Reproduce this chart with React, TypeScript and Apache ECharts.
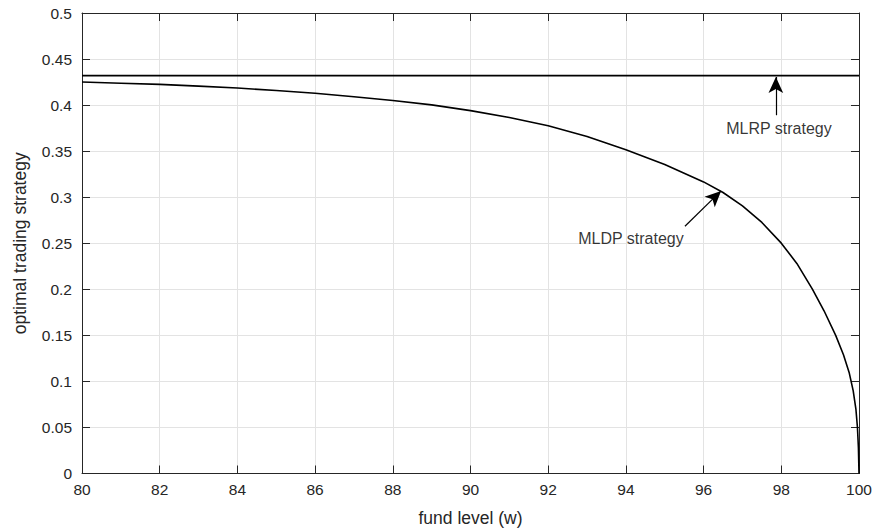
import React, { useEffect, useRef } from "react";
import * as echarts from "echarts";

const fundLevel = [80, 81, 82, 83, 84, 85, 86, 87, 88, 89, 90, 91, 92, 93, 94, 95, 96, 96.5, 97, 97.5, 98, 98.4, 98.8, 99.1, 99.4, 99.6, 99.75, 99.85, 99.92, 99.96, 99.985, 100];
const mldpStrategy = [0.425, 0.4238, 0.4225, 0.4206, 0.4185, 0.4158, 0.4128, 0.4091, 0.405, 0.4002, 0.394, 0.3866, 0.3775, 0.366, 0.3515, 0.3355, 0.3166, 0.3051, 0.2906, 0.2726, 0.2501, 0.2281, 0.2001, 0.1767, 0.15, 0.129, 0.109, 0.09, 0.07, 0.05, 0.028, 0];
const mlrpX = [80, 100];
const mlrpValue = 0.432;

const mldpArrow = { from: [95.52, 0.2685], to: [96.45, 0.3068] };
const mlrpArrow = { from: [97.86, 0.389], to: [97.86, 0.4305] };
const annotations: [number, number, string][] = [
  [94.13, 0.2553, "MLDP strategy"],
  [97.94, 0.3745, "MLRP strategy"],
];

const FONT = "Liberation Sans, Arial, Helvetica, sans-serif";
const AXIS_COLOR = "#262626";
const GRID_COLOR = "#e3e3e3";

export default function App() {
  const ref = useRef<HTMLDivElement>(null);
  useEffect(() => {
    if (!ref.current) return;
    const chart = echarts.init(ref.current, null, { renderer: "svg" });
    const axisCommon = {
      axisLine: { show: true, onZero: false, lineStyle: { color: AXIS_COLOR, width: 1 } },
      axisTick: { show: true, inside: true, length: 8, lineStyle: { color: AXIS_COLOR, width: 1 } },
    };
    chart.setOption({
      animation: false,
      backgroundColor: "#ffffff",
      grid: {
        left: 82,
        right: 15,
        top: 13,
        bottom: 56.5,
        containLabel: false,
        outerBoundsMode: "none",
      },
      xAxis: [
        {
          type: "value",
          min: 80,
          max: 100,
          interval: 2,
          ...axisCommon,
          axisLabel: { color: AXIS_COLOR, fontSize: 15.5, fontFamily: FONT, margin: 8 },
          splitLine: { show: true, lineStyle: { color: GRID_COLOR, width: 1 } },
          name: "fund level (w)",
          nameLocation: "middle",
          nameGap: 35,
          nameTextStyle: { color: AXIS_COLOR, fontSize: 17.5, fontFamily: FONT },
        },
        {
          type: "value",
          position: "top",
          min: 80,
          max: 100,
          interval: 2,
          ...axisCommon,
          axisLabel: { show: false },
          splitLine: { show: false },
        },
      ],
      yAxis: [
        {
          type: "value",
          min: 0,
          max: 0.5,
          interval: 0.05,
          ...axisCommon,
          axisLabel: { color: AXIS_COLOR, fontSize: 15.5, fontFamily: FONT, margin: 10 },
          splitLine: { show: true, lineStyle: { color: GRID_COLOR, width: 1 } },
          name: "optimal trading strategy",
          nameLocation: "middle",
          nameGap: 53,
          nameTextStyle: { color: AXIS_COLOR, fontSize: 17.5, fontFamily: FONT },
        },
        {
          type: "value",
          position: "right",
          min: 0,
          max: 0.5,
          interval: 0.05,
          ...axisCommon,
          axisLabel: { show: false },
          splitLine: { show: false },
        },
      ],
      series: [
        {
          type: "line",
          name: "MLDP",
          data: fundLevel.map((x, i) => [x, mldpStrategy[i]]),
          showSymbol: false,
          smooth: false,
          lineStyle: { color: "#000000", width: 1.6 },
          z: 3,
        },
        {
          type: "line",
          name: "MLRP",
          data: mlrpX.map((x) => [x, mlrpValue]),
          showSymbol: false,
          lineStyle: { color: "#000000", width: 1.6 },
          z: 3,
          markLine: {
            silent: true,
            symbol: ["none", "arrow"],
            symbolSize: [11, 16],
            label: { show: false },
            lineStyle: { color: "#000000", width: 1.2, type: "solid" },
            data: [
              [{ coord: mldpArrow.from }, { coord: mldpArrow.to }],
              [{ coord: mlrpArrow.from }, { coord: mlrpArrow.to }],
            ],
          },
        },
        {
          type: "scatter",
          data: annotations.map((a) => [a[0], a[1], a[2]]),
          symbolSize: 1,
          itemStyle: { color: "rgba(0,0,0,0)" },
          label: {
            show: true,
            position: "inside",
            formatter: (p: any) => p.data[2],
            color: "#000000",
            fontSize: 16,
            fontFamily: FONT,
          },
          z: 4,
        },
      ],
    });
    return () => chart.dispose();
  }, []);
  return (
    <div
      ref={ref}
      style={{ position: "absolute", left: 0, top: 0, width: 874, height: 530, background: "#fff" }}
    />
  );
}
